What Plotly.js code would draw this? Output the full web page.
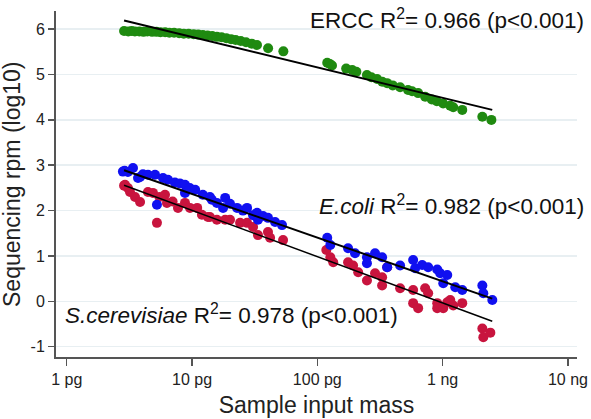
<!DOCTYPE html>
<html>
<head>
<meta charset="utf-8">
<script src="https://cdn.plot.ly/plotly-3.0.1.min.js"></script>
<style>html,body{margin:0;padding:0;background:#fff}</style>
</head>
<body>
<div id="chart" style="width:591px;height:419px"></div>
<script>
// ---- data (input mass in pg, sequencing rpm in log10) ----
const erccMass = [2.87, 3.1, 3.3, 3.5, 3.8, 4.1, 4.4, 4.8, 5.2, 5.6, 6.1, 6.6, 7.2, 7.9, 8.6, 9.4, 10.3, 11.2, 12.2, 13.3, 14.5, 15.8, 17.2, 18.8, 20.5, 22.3, 24.5, 27, 30, 33, 40.5, 53.6, 120, 126, 131, 170, 190, 205, 249, 270, 300, 330, 361, 400, 458, 530, 571, 638, 726, 820, 900, 1010, 1150, 1216, 1435, 2075, 2450];
const erccRpm = [5.96, 5.95, 5.96, 5.95, 5.95, 5.94, 5.95, 5.94, 5.94, 5.93, 5.93, 5.92, 5.92, 5.91, 5.9, 5.9, 5.89, 5.88, 5.87, 5.86, 5.85, 5.83, 5.82, 5.8, 5.78, 5.76, 5.74, 5.71, 5.68, 5.65, 5.58, 5.51, 5.26, 5.23, 5.2, 5.13, 5.1, 5.06, 4.99, 4.94, 4.9, 4.84, 4.81, 4.76, 4.72, 4.66, 4.63, 4.59, 4.51, 4.45, 4.41, 4.36, 4.31, 4.28, 4.22, 4.07, 4.0];

const ecoliMass = [2.81, 2.9, 3.08, 3.38, 3.71, 3.85, 4.06, 4.45, 5.07, 5.25, 5.87, 6.43, 7.3, 8.0, 8.79, 8.79, 9.6, 10.6, 12.2, 13.9, 14.4, 15.8, 17.7, 18.4, 20.1, 22.9, 25.5, 27.5, 30.7, 33.0, 33.6, 36.9, 40.4, 46, 52.3, 120, 127, 176, 200, 249, 249, 289, 329, 361, 458, 582, 604, 687, 767, 906, 957, 1012, 1089, 1262, 1435, 2075, 2113, 2493];
const ecoliRpm = [2.86, 2.88, 2.85, 2.94, 2.72, 2.74, 2.8, 2.79, 2.79, 2.13, 2.72, 2.68, 2.62, 2.6, 2.57, 2.39, 2.5, 2.46, 2.35, 2.30, 2.24, 2.17, 2.06, 2.28, 2.15, 2.06, 2.0, 2.06, 1.9, 1.95, 1.80, 1.88, 1.84, 1.75, 1.68, 1.40, 1.24, 1.17, 1.06, 0.97, 0.84, 1.06, 0.97, 0.75, 0.79, 0.91, 0.73, 0.80, 0.75, 0.70, 0.62, 0.40, 0.58, 0.31, 0.25, 0.35, 0.18, 0.03];

const scerMass = [2.87, 2.92, 3.08, 3.2, 3.51, 3.85, 4.45, 4.88, 5.25, 5.5, 6.09, 6.31, 7.0, 7.73, 8.79, 9.64, 11.0, 12.0, 13.4, 13.9, 15.8, 18.4, 20.1, 24.2, 27.5, 30.7, 33.6, 40.4, 42, 53.3, 118, 127, 134, 176, 193, 212, 249, 289, 329, 329, 361, 458, 582, 582, 638, 726, 767, 906, 906, 1012, 1089, 1151, 1216, 1435, 2075, 2113, 2404];
const scerRpm = [2.55, 2.57, 2.5, 2.41, 2.30, 2.19, 2.41, 2.39, 1.73, 2.3, 2.35, 2.17, 2.2, 2.06, 2.17, 2.06, 2.06, 1.91, 1.86, 1.86, 1.80, 1.80, 1.80, 1.73, 1.73, 1.64, 1.46, 1.53, 1.40, 1.35, 1.13, 0.97, 0.86, 0.86, 0.79, 0.64, 0.46, 0.62, 0.53, 0.35, 0.75, 0.29, 0.25, -0.04, -0.15, 0.29, 0.18, -0.04, -0.15, -0.15, -0.02, 0.03, -0.09, -0.04, -0.60, -0.79, -0.69];

// regression line end points
const fitMass = [2.87, 2490];
const erccFit = [6.19, 4.22];
const ecoliFit = [2.89, 0.06];
const scerFit = [2.56, -0.44];

// axis ticks and labels
const xTickVals = [1, 10, 100, 1000, 10000];
const xTickText = ['1 pg', '10 pg', '100 pg', '1 ng', '10 ng'];
const yTickVals = [-1, 0, 1, 2, 3, 4, 5, 6];
const yTickText = ['-1', '0', '1', '2', '3', '4', '5', '6'];

const labels = [
  'ERCC R<sup>2</sup>= 0.966 (p&lt;0.001)',
  '<i>E.coli</i> R<sup>2</sup>= 0.982 (p&lt;0.001)',
  '<i>S.cerevisiae</i> R<sup>2</sup>= 0.978 (p&lt;0.001)'
];
const xTitle = 'Sample input mass';
const yTitle = 'Sequencing rpm (log10)';

const GREEN = '#1f8a10', BLUE = '#1010f0', RED = '#c8143e';
const FONT = 'Liberation Sans, Arial, Helvetica, sans-serif';

function pts(x, y, c) {
  return {x: x, y: y, type: 'scatter', mode: 'markers',
          marker: {color: c, size: 10, line: {width: 0}}, hoverinfo: 'skip'};
}
function fit(y, w) {
  return {x: fitMass, y: y, type: 'scatter', mode: 'lines',
          line: {color: '#000', width: w}, hoverinfo: 'skip'};
}

const data = [
  pts(erccMass, erccRpm, GREEN),
  pts(scerMass, scerRpm, RED),
  pts(ecoliMass, ecoliRpm, BLUE),
  fit(erccFit, 2),
  fit(ecoliFit, 2),
  fit(scerFit, 1.5)
];

const layout = {
  width: 591, height: 419,
  margin: {l: 56, r: 14, t: 11, b: 62, pad: 0},
  paper_bgcolor: '#fff', plot_bgcolor: '#fff',
  showlegend: false,
  font: {family: FONT, color: '#222', size: 16},
  xaxis: {
    type: 'log', range: [-0.0854, 4.0726], autorange: false,
    tickvals: xTickVals, ticktext: xTickText,
    showgrid: false, zeroline: false,
    showline: true, linecolor: '#555', linewidth: 2,
    ticks: 'outside', ticklen: 7, tickwidth: 1.5, tickcolor: '#555',
    tickfont: {size: 16, color: '#222'},
    title: {text: xTitle, font: {size: 23, color: '#222'}, standoff: 10}
  },
  yaxis: {
    range: [-1.227, 6.40], autorange: false,
    tickvals: yTickVals, ticktext: yTickText,
    showgrid: true, gridcolor: '#e8eff2', gridwidth: 1.5,
    zeroline: false,
    showline: true, linecolor: '#555', linewidth: 2,
    ticks: 'outside', ticklen: 6, tickwidth: 1.5, tickcolor: '#555',
    tickfont: {size: 16, color: '#222'}
  },
  annotations: [
    {text: labels[0], xref: 'paper', yref: 'paper', x: 1.017, y: 0.977,
     xanchor: 'right', yanchor: 'middle', showarrow: false,
     font: {size: 22.5, color: '#111'}},
    {text: labels[1], xref: 'paper', yref: 'paper', x: 1.017, y: 0.438,
     xanchor: 'right', yanchor: 'middle', showarrow: false,
     font: {size: 22.5, color: '#111'}},
    {text: labels[2], xref: 'paper', yref: 'paper', x: 0.0135, y: 0.123,
     xanchor: 'left', yanchor: 'middle', showarrow: false,
     font: {size: 22.5, color: '#111'}},
    {text: yTitle, xref: 'paper', yref: 'paper', x: -0.0845, y: 0.5,
     xanchor: 'center', yanchor: 'middle', textangle: -90, showarrow: false,
     font: {size: 23, color: '#222'}}
  ]
};

Plotly.newPlot('chart', data, layout, {staticPlot: true, displayModeBar: false});
</script>
</body>
</html>
